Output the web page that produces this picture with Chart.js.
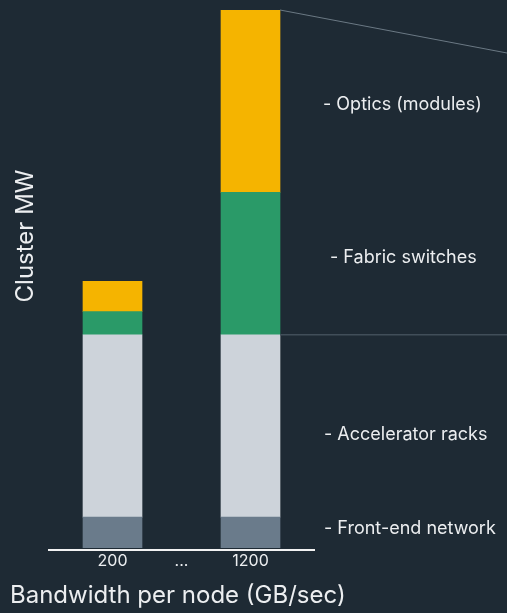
<!DOCTYPE html>
<html>
<head>
<meta charset="utf-8">
<script src="https://cdn.jsdelivr.net/npm/chart.js@4"></script>
<style>
  html, body { margin: 0; padding: 0; background: #1e2a34; }
  #wrap { width: 507px; height: 613px; }
</style>
</head>
<body>
<div id="wrap"><canvas id="clusterChart"></canvas></div>
<script>
// Bandwidth categories ("..." is a gap tick with no bar)
const bandwidth = ["200", "...", "1200"];
const barPositions = [1, 3];

// Cluster MW by component, one value per bar (200, 1200)
const frontEnd = [5, 5];
const accelerators = [30, 30];
const fabric = [3.8, 23.4];
const optics = [5, 30];

const labels = ["- Front-end network", "- Accelerator racks", "- Fabric switches", "- Optics (modules)"];
const colors = ["#6a7b8b", "#cdd3da", "#2a9a68", "#f5b400"];

const FONT = "Inter, 'Noto Sans', sans-serif";
const TEXT = "#eceef0";

function toPoints(values) {
  return values.map((v, i) => ({ x: barPositions[i], y: v }));
}

const series = [frontEnd, accelerators, fabric, optics];

// labels, axis titles and the guide lines off the tall bar
const annotations = {
  id: "annotations",
  afterDraw(chart) {
    const ctx = chart.ctx;
    const w = chart.width;
    const bars = series.map((_, i) => chart.getDatasetMeta(i).data[1]);
    const right = bars[0].x + bars[0].width / 2;

    ctx.save();
    // diagonal from the top of the tall bar
    const top = bars[3];
    ctx.strokeStyle = "#6b7984";
    ctx.lineWidth = 1;
    ctx.beginPath();
    ctx.moveTo(right, top.y);
    ctx.lineTo(w, top.y + 43);
    ctx.stroke();

    // line at the top of the accelerator racks
    const acc = bars[1];
    ctx.strokeStyle = "#414e59";
    ctx.lineWidth = 1.5;
    ctx.beginPath();
    ctx.moveTo(right, acc.y);
    ctx.lineTo(w, acc.y);
    ctx.stroke();

    // segment labels
    const dy = [-4, 9, -6, 3];
    const dx = [44, 44, 50, 43];
    ctx.fillStyle = TEXT;
    ctx.font = "18px " + FONT;
    ctx.textBaseline = "middle";
    ctx.textAlign = "left";
    bars.forEach((b, i) => {
      const mid = b.y + (b.base - b.y) / 2;
      ctx.fillText(labels[i], right + dx[i], mid + dy[i]);
    });

    // axis titles
    ctx.font = "24px " + FONT;
    ctx.textBaseline = "alphabetic";
    ctx.fillText("Bandwidth per node (GB/sec)", 10, 603);
    ctx.translate(33, 236);
    ctx.rotate(-Math.PI / 2);
    ctx.textAlign = "center";
    ctx.fillText("Cluster MW", 0, 0);
    ctx.restore();
  }
};

new Chart(document.getElementById("clusterChart"), {
  type: "bar",
  data: {
    datasets: series.map((values, i) => ({
      label: labels[i],
      data: toPoints(values),
      backgroundColor: colors[i],
      borderWidth: 0,
      barThickness: 59
    }))
  },
  options: {
    responsive: true,
    maintainAspectRatio: false,
    animation: false,
    layout: { padding: { left: 49, right: 193, top: 10, bottom: 0 } },
    plugins: {
      legend: { display: false },
      tooltip: { enabled: false }
    },
    scales: {
      x: {
        type: "linear",
        stacked: true,
        offset: false,
        min: 1 - 63.5 / 69,
        max: 3 + 63.5 / 69,
        grid: { display: false, drawTicks: false },
        border: { display: true, color: "#f2f2f2", width: 2 },
        afterBuildTicks: scale => {
          scale.ticks = bandwidth.map((_, i) => ({ value: i + 1 }));
        },
        afterFit: scale => { scale.height = 63; },
        ticks: {
          color: TEXT,
          font: { family: FONT, size: 16 },
          padding: 2,
          maxRotation: 0,
          autoSkip: false,
          callback: v => bandwidth[v - 1]
        }
      },
      y: {
        stacked: true,
        display: false,
        min: -0.4,
        max: 88.4
      }
    }
  },
  plugins: [annotations]
});
</script>
</body>
</html>
